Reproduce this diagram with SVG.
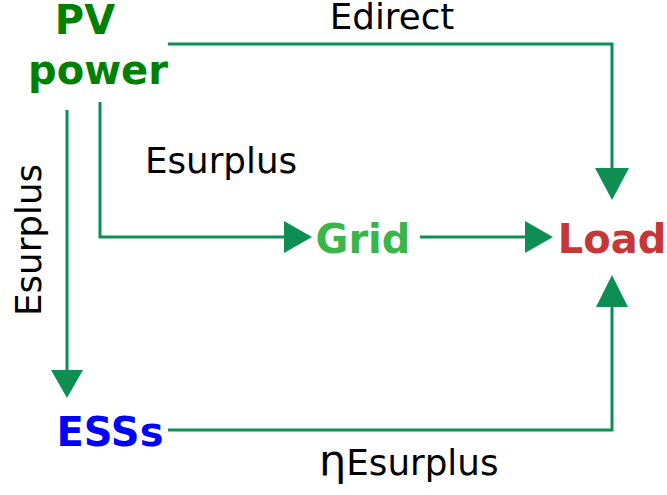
<svg xmlns="http://www.w3.org/2000/svg" width="667" height="495" viewBox="0 0 667 495">
<defs>
<style>
.n{font-family:"DejaVu Sans",Verdana,sans-serif;font-weight:bold;font-size:40px;text-anchor:middle}
.l{font-family:"DejaVu Sans",Verdana,sans-serif;font-size:35.7px;fill:#000}
.c{fill:none;stroke:#0d8f53;stroke-width:3}
.h{fill:#0d8f53}
</style>
</defs>
<g id="connectors">
<polyline class="c" points="168,44 612,44 612,170"/>
<polygon class="h" points="595,168 629,168 612,200"/>
<polyline class="c" points="100,102 100,237 286,237"/>
<polygon class="h" points="284,221 284,253 312,237"/>
<line class="c" x1="420" y1="237" x2="527" y2="237"/>
<polygon class="h" points="525,221 525,253 553,237"/>
<line class="c" x1="67" y1="110" x2="67" y2="372"/>
<polygon class="h" points="51,370 83,370 67,398"/>
<polyline class="c" points="168,430 612,430 612,305"/>
<polygon class="h" points="596,307 628,307 612,275"/>
</g>
<g id="labels">
<text class="l" x="392" y="29" text-anchor="middle">Edirect</text>
<text class="l" x="221" y="173" text-anchor="middle">Esurplus</text>
<text class="l" text-anchor="middle" transform="translate(41,240) rotate(-90)">Esurplus</text>
<text class="l" x="319" y="475"><tspan font-size="43px">η</tspan>Esurplus</text>
</g>
<g id="pv"><text class="n" fill="#008000"><tspan x="85" y="34">PV</tspan><tspan x="98" y="84">power</tspan></text></g>
<g id="grid"><text class="n" x="363" y="253" fill="#39b54a">Grid</text></g>
<g id="load"><text class="n" x="612" y="253" fill="#c83737">Load</text></g>
<g id="ess"><text class="n" x="110" y="446" fill="#0000ff">ESSs</text></g>
</svg>
